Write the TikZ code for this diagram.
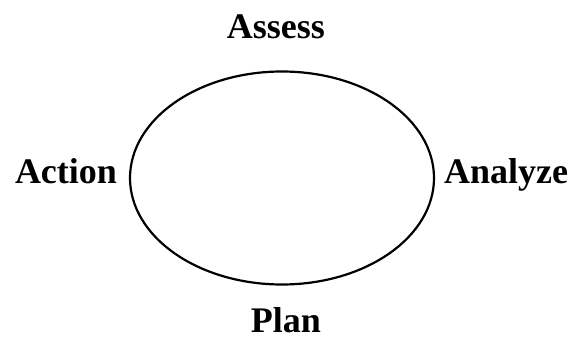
\documentclass[tikz,border=0pt]{standalone}
\usepackage{fontspec}
\setmainfont{Liberation Serif}
\usetikzlibrary{shapes.geometric}
\begin{document}
\begin{tikzpicture}[x=1pt,y=1pt,
  lbl/.style={font=\fontsize{36}{40}\selectfont\bfseries, anchor=base, inner sep=0pt},
  ring/.style={ellipse, draw, line width=2.2pt, inner sep=0pt, minimum width=304pt, minimum height=213pt}]
\useasboundingbox (0,0) rectangle (571,341);
\node[ring] (cycle) at (282,163) {};
\node[lbl] (assess) at (276,302) {Assess};
\node[lbl] (action) at (66,158) {Action};
\node[lbl] (analyze) at (506,158) {Analyze};
\node[lbl] (plan) at (286,9) {Plan};
\end{tikzpicture}
\end{document}
